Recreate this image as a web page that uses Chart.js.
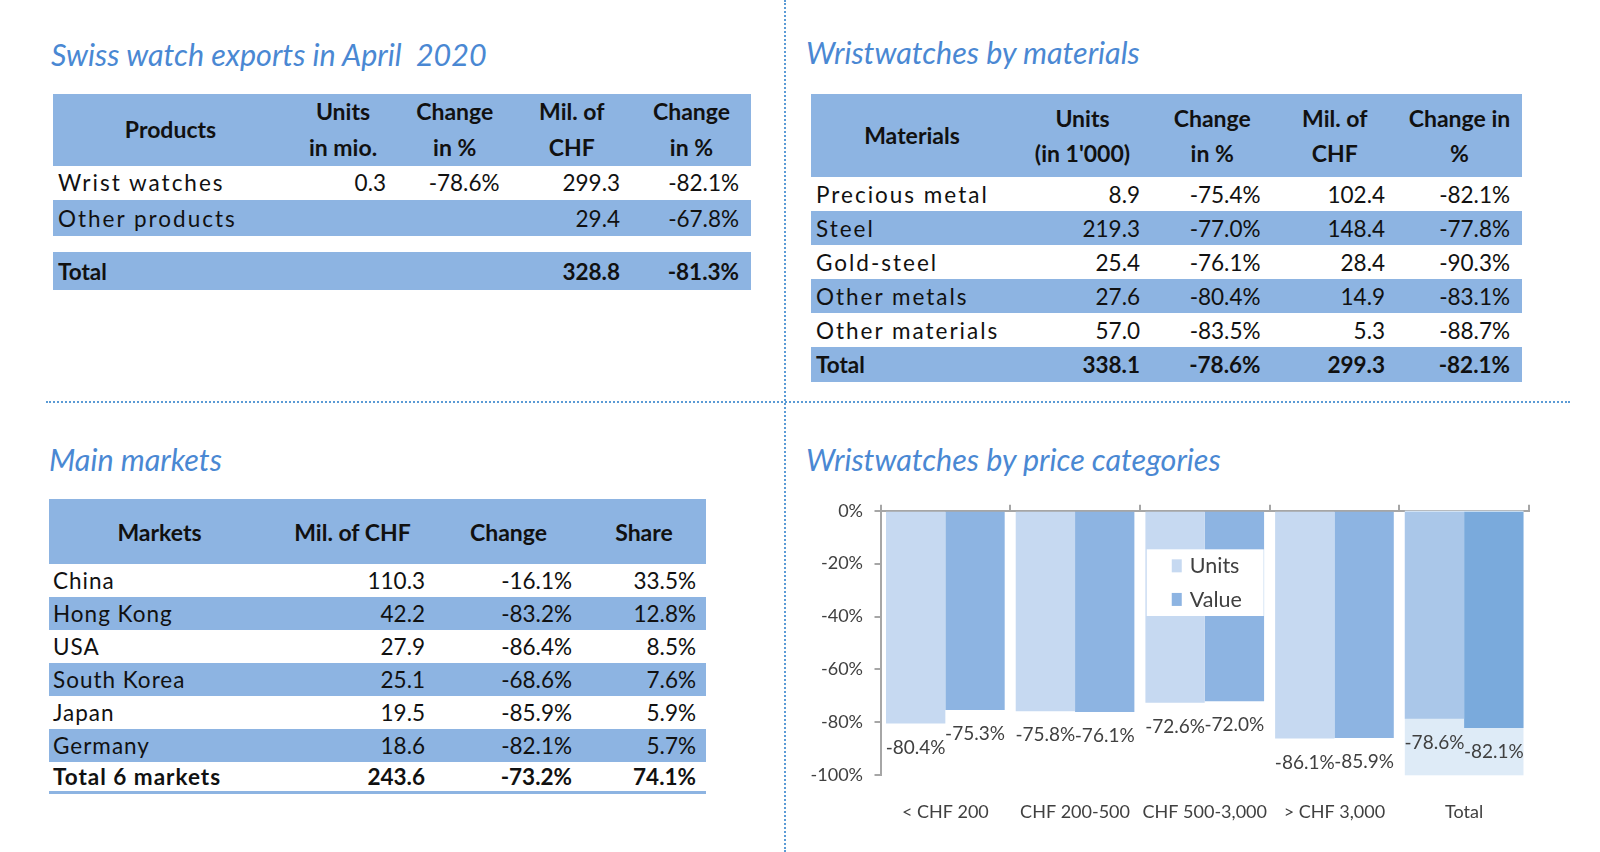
<!DOCTYPE html>
<html>
<head>
<meta charset="utf-8">
<script src="https://cdn.jsdelivr.net/npm/chart.js@4.4.1/dist/chart.umd.min.js"></script>
<style>
    body { margin: 0; width: 1600px; height: 852px; background: #fff; position: relative; overflow: hidden; font-family: Lato, 'Open Sans', sans-serif; }
    .title { position: absolute; font-style: italic; font-size: 30.5px; color: #4a88d3; white-space: pre; line-height: 1; }
    .vline { position: absolute; left: 784px; top: 0; height: 852px; border-left: 2px dotted #5b9bd5; }
    .hline { position: absolute; left: 46px; top: 401px; width: 1524px; border-top: 2px dotted #5b9bd5; }
    table { position: absolute; border-collapse: collapse; table-layout: fixed; font-size: 22.5px; color: #111; }
    th { background: #8db4e2; font-weight: bold; font-size: 23px; text-align: center; white-space: pre-line; padding: 0; }
    td { padding: 0 12px 0 5px; text-align: right; white-space: nowrap; }
    td.lbl { text-align: left; letter-spacing: 2px; }
    #tblMarkets td { padding-right: 10px; }
    #tblMarkets td.lbl { letter-spacing: 1px; padding-left: 4px; }
    tr.blue td { background: #8db4e2; }
    tr.tot td { font-weight: bold; letter-spacing: 0; }
    #chartBox { position: absolute; left: 790px; top: 480px; width: 780px; height: 370px; }
</style>
</head>
<body>
<div class="vline"></div>
<div class="hline"></div>

<div class="title" style="left:51px; top:39px;">Swiss watch exports in April  2020</div>
<div class="title" style="left:806px; top:37px;">Wristwatches by materials</div>
<div class="title" style="left:49px; top:444px;">Main markets</div>
<div class="title" style="left:806px; top:444px;">Wristwatches by price categories</div>

<table id="tblProducts" style="left:53px; top:94px; width:698px;"></table>
<table id="tblMaterials" style="left:811px; top:94px; width:711px;"></table>
<table id="tblMarkets" style="left:49px; top:499px; width:657px;"></table>

<div id="chartBox"><canvas id="priceChart"></canvas></div>

<script>
// Swiss watch exports in April 2020
const productHeaders = ['Products', 'Units\nin mio.', 'Change\nin %', 'Mil. of\nCHF', 'Change\nin %'];
const productNames = ['Wrist watches', 'Other products'];
const productUnits = [0.3, null];
const productUnitsChange = [-78.6, null];
const productValue = [299.3, 29.4];
const productValueChange = [-82.1, -67.8];
const productTotal = [null, null, 328.8, -81.3];

// Wristwatches by materials
const materialHeaders = ['Materials', 'Units\n(in 1\'000)', 'Change\nin %', 'Mil. of\nCHF', 'Change in\n%'];
const materialNames = ['Precious metal', 'Steel', 'Gold-steel', 'Other metals', 'Other materials'];
const materialUnits = [8.9, 219.3, 25.4, 27.6, 57.0];
const materialUnitsChange = [-75.4, -77.0, -76.1, -80.4, -83.5];
const materialValue = [102.4, 148.4, 28.4, 14.9, 5.3];
const materialValueChange = [-82.1, -77.8, -90.3, -83.1, -88.7];
const materialTotal = [338.1, -78.6, 299.3, -82.1];

// Main markets
const marketHeaders = ['Markets', 'Mil. of CHF', 'Change', 'Share'];
const marketNames = ['China', 'Hong Kong', 'USA', 'South Korea', 'Japan', 'Germany'];
const marketValue = [110.3, 42.2, 27.9, 25.1, 19.5, 18.6];
const marketChange = [-16.1, -83.2, -86.4, -68.6, -85.9, -82.1];
const marketShare = [33.5, 12.8, 8.5, 7.6, 5.9, 5.7];
const marketTotal = [243.6, -73.2, 74.1];

// Wristwatches by price categories
const priceCategories = ['< CHF 200', 'CHF 200-500', 'CHF 500-3,000', '> CHF 3,000', 'Total'];
const priceUnitsChange = [-80.4, -75.8, -72.6, -86.1, -78.6];
const priceValueChange = [-75.3, -76.1, -72.0, -85.9, -82.1];

function num(v) {
    return v === null ? '' : v.toFixed(1);
}
function pct(v) {
    return v === null ? '' : v.toFixed(1) + '%';
}

// costruisce una tabella: colonne, intestazioni, righe (array di celle)
function buildTable(id, widths, headers, headerHeight, headerLine, rows) {
    const table = document.getElementById(id);
    let html = '<colgroup>' + widths.map(w => `<col style="width:${w}px">`).join('') + '</colgroup>';
    html += `<tr style="height:${headerHeight}px">` + headers.map(h => `<th style="line-height:${headerLine}px">${h}</th>`).join('') + '</tr>';
    rows.forEach(r => {
        const style = `height:${r.height}px` + (r.border ? ';border-bottom:3px solid #8db4e2' : '');
        if (r.spacer) {
            html += `<tr style="${style}"><td colspan="${widths.length}"></td></tr>`;
            return;
        }
        html += `<tr class="${r.cls || ''}" style="${style}">`;
        html += r.cells.map((c, i) => `<td class="${i === 0 ? 'lbl' : ''}">${c}</td>`).join('');
        html += '</tr>';
    });
    table.innerHTML = html;
}

const productRows = productNames.map((n, i) => ({
    cls: i % 2 ? 'blue' : '',
    height: i === 0 ? 34.7 : 35.8,
    cells: [n, num(productUnits[i]), pct(productUnitsChange[i]), num(productValue[i]), pct(productValueChange[i])]
}));
productRows.push({ spacer: true, height: 16.3 });
productRows.push({
    cls: 'blue tot', height: 37.8,
    cells: ['Total', num(productTotal[0]), pct(productTotal[1]), num(productTotal[2]), pct(productTotal[3])]
});
buildTable('tblProducts', [235, 110, 113.5, 120.5, 119], productHeaders, 71.5, 35.7, productRows);

const materialRows = materialNames.map((n, i) => ({
    cls: i % 2 ? 'blue' : '',
    height: 34.1,
    cells: [n, num(materialUnits[i]), pct(materialUnitsChange[i]), num(materialValue[i]), pct(materialValueChange[i])]
}));
materialRows.push({
    cls: 'blue tot', height: 34.1,
    cells: ['Total', num(materialTotal[0]), pct(materialTotal[1]), num(materialTotal[2]), pct(materialTotal[3])]
});
buildTable('tblMaterials', [202, 139, 120.5, 124.5, 125], materialHeaders, 83, 34.7, materialRows);

const marketRows = marketNames.map((n, i) => ({
    cls: i % 2 ? 'blue' : '',
    height: 32.9,
    cells: [n, num(marketValue[i]), pct(marketChange[i]), pct(marketShare[i])]
}));
marketRows.push({
    cls: 'tot', height: 30.6, border: true,
    cells: ['Total 6 markets', num(marketTotal[0]), pct(marketTotal[1]), pct(marketTotal[2])]
});
buildTable('tblMarkets', [221, 165, 147, 124], marketHeaders, 65.4, 30, marketRows);

// Pannello chiaro dietro la categoria "Total"
const totalPanel = {
    id: 'totalPanel',
    beforeDatasetsDraw(chart) {
        const last = priceCategories.length - 1;
        const a = chart.getDatasetMeta(0).data[last];
        const b = chart.getDatasetMeta(1).data[last];
        const y = chart.scales.y;
        const ctx = chart.ctx;
        ctx.save();
        ctx.fillStyle = '#deebf7';
        const left = a.x - a.width / 2;
        const right = b.x + b.width / 2;
        ctx.fillRect(left, y.getPixelForValue(0), right - left, y.getPixelForValue(-100) - y.getPixelForValue(0));
        ctx.restore();
    }
};

// Etichette sotto le barre e legenda dentro il grafico
const barLabels = {
    id: 'barLabels',
    afterDatasetsDraw(chart) {
        const ctx = chart.ctx;
        ctx.save();
        ctx.font = '19px Lato';
        ctx.fillStyle = '#404040';
        ctx.textAlign = 'center';
        ctx.textBaseline = 'middle';
        chart.data.datasets.forEach((ds, i) => {
            chart.getDatasetMeta(i).data.forEach((bar, j) => {
                ctx.fillText(ds.data[j].toFixed(1) + '%', bar.x, bar.y + 24);
            });
        });

        // legenda
        const x = chart.scales.x;
        const y = chart.scales.y;
        const cx = x.getPixelForValue(2);
        const top = y.getPixelForValue(-14.6);
        const bottom = y.getPixelForValue(-39.8);
        ctx.fillStyle = '#ffffff';
        ctx.fillRect(cx - 58, top, 117, bottom - top);
        ctx.font = '21.5px Lato';
        ctx.textAlign = 'left';
        const colors = ['#c6d9f1', '#8db4e2'];
        chart.data.datasets.forEach((ds, i) => {
            const ly = top + 16 + i * 33.6;
            ctx.fillStyle = colors[i];
            ctx.fillRect(cx - 33, ly - 6, 10, 13);
            ctx.fillStyle = '#404040';
            ctx.fillText(ds.label, cx - 15, ly + 1);
        });
        ctx.restore();
    }
};

Chart.defaults.font.family = 'Lato';
Chart.defaults.color = '#404040';

const ctx = document.getElementById('priceChart').getContext('2d');
new Chart(ctx, {
    type: 'bar',
    data: {
        labels: priceCategories,
        datasets: [
            {
                label: 'Units',
                data: priceUnitsChange,
                backgroundColor: ['#c6d9f1', '#c6d9f1', '#c6d9f1', '#c6d9f1', '#aac7e9'],
                borderWidth: 0,
                categoryPercentage: 0.915,
                barPercentage: 1.0
            },
            {
                label: 'Value',
                data: priceValueChange,
                backgroundColor: ['#8db4e2', '#8db4e2', '#8db4e2', '#8db4e2', '#7aaadc'],
                borderWidth: 0,
                categoryPercentage: 0.915,
                barPercentage: 1.0
            }
        ]
    },
    options: {
        responsive: true,
        maintainAspectRatio: false,
        animation: false,
        layout: { padding: { left: 0, right: 41, top: 0, bottom: 0 } },
        scales: {
            x: {
                type: 'category',
                position: 'bottom',
                offset: true,
                border: { display: false },
                grid: { display: false },
                ticks: { font: { size: 18 }, color: '#404040', padding: 18, maxRotation: 0 },
                afterFit: function(scale) { scale.height = 74.7; }
            },
            xTop: {
                type: 'category',
                position: 'top',
                offset: true,
                border: { display: true, color: '#a6a6a6', width: 2 },
                grid: { display: true, offset: true, drawOnChartArea: false, tickLength: 6, color: '#a6a6a6', lineWidth: 2 },
                ticks: { display: false },
                afterFit: function(scale) { scale.height = 30.7; }
            },
            y: {
                min: -100,
                max: 0,
                border: { display: true, color: '#a6a6a6', width: 2 },
                grid: { drawOnChartArea: false, tickLength: 6, color: '#a6a6a6', lineWidth: 2 },
                ticks: {
                    stepSize: 20,
                    padding: 11.5,
                    font: { size: 18 },
                    color: '#404040',
                    callback: function(value) { return value + '%'; }
                },
                afterFit: function(scale) { scale.width = 90.5; }
            }
        },
        plugins: {
            legend: { display: false },
            tooltip: { enabled: false }
        }
    },
    plugins: [totalPanel, barLabels]
});
</script>
</body>
</html>
